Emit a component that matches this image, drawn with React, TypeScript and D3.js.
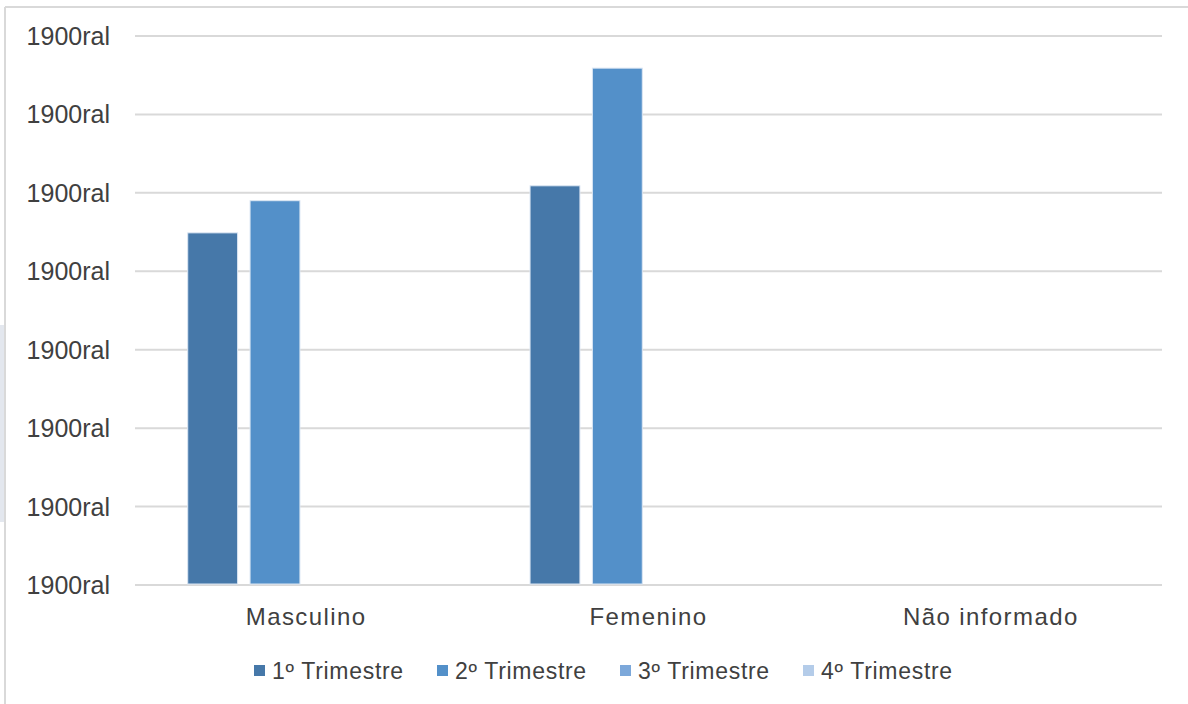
import React from "react";
import * as d3 from "d3";

const categories = ["Masculino", "Femenino", "Não informado"];
const seriesNames = ["1º Trimestre", "2º Trimestre", "3º Trimestre", "4º Trimestre"];
const trimestre1 = [4.49, 5.09, 0];
const trimestre2 = [4.9, 6.59, 0];
const trimestre3 = [0, 0, 0];
const trimestre4 = [0, 0, 0];
const yTicks = [0, 1, 2, 3, 4, 5, 6, 7];
const yTickLabel = "1900ral";
const seriesColors = ["#4678A9", "#5390C9", "#7CA8DA", "#B4CCE9"];

const W = 1188;
const H = 704;
const plotLeft = 135;
const plotRight = 1162;
const plotTop = 36;
const plotBottom = 585;

export default function App() {
  const seriesValues = [trimestre1, trimestre2, trimestre3, trimestre4];
  const x0 = d3
    .scaleBand<string>()
    .domain(categories)
    .range([plotLeft, plotRight])
    .paddingInner(0.308)
    .paddingOuter(0.154);
  const x1 = d3
    .scaleBand<string>()
    .domain(seriesNames)
    .range([0, x0.bandwidth()])
    .paddingInner(0.2);
  const y = d3.scaleLinear().domain([0, 7]).range([plotBottom, plotTop]);

  const font = "'Liberation Sans', Arial, sans-serif";
  const textColor = "#404040";

  const legendStride = 183;
  const legendCenter = 603;
  const legendStart = legendCenter - (legendStride * seriesNames.length - 34) / 2;

  return (
    <svg
      width={W}
      height={H}
      style={{ position: "absolute", left: 0, top: 0, background: "#fff" }}
      fontFamily={font}
    >
      <rect x={0} y={325} width={4} height={197} fill="#e3e7ee" />
      <line x1={5} y1={7} x2={W} y2={7} stroke="#d9d9d9" strokeWidth={2} />
      <line x1={5} y1={7} x2={5} y2={H} stroke="#d9d9d9" strokeWidth={2} />

      {yTicks.map((t) => (
        <g key={t}>
          <line
            x1={plotLeft}
            x2={plotRight}
            y1={y(t)}
            y2={y(t)}
            stroke="#d9d9d9"
            strokeWidth={2}
          />
          <text
            x={110}
            y={y(t)}
            dy="0.36em"
            textAnchor="end"
            fontSize={25}
            fill={textColor}
          >
            {yTickLabel}
          </text>
        </g>
      ))}

      {categories.map((c, ci) => (
        <g key={c} transform={`translate(${x0(c)},0)`}>
          {seriesNames.map((s, si) => {
            const v = seriesValues[si][ci];
            if (!v) return null;
            return (
              <rect
                key={s}
                x={x1(s)}
                y={y(v)}
                width={x1.bandwidth()}
                height={plotBottom - 1 - y(v)}
                fill={seriesColors[si]}
                stroke="#dbe6f3"
                strokeWidth={1}
              />
            );
          })}
          <text
            x={x0.bandwidth() / 2}
            y={625}
            textAnchor="middle"
            fontSize={24}
            letterSpacing={1.4}
            fill={textColor}
          >
            {c}
          </text>
        </g>
      ))}

      {seriesNames.map((s, si) => {
        const lx = legendStart + si * legendStride;
        return (
          <g key={s}>
            <rect x={lx} y={665} width={11} height={11} fill={seriesColors[si]} />
            <text x={lx + 18} y={679} fontSize={23} letterSpacing={0.7} fill={textColor}>
              {s}
            </text>
          </g>
        );
      })}
    </svg>
  );
}
